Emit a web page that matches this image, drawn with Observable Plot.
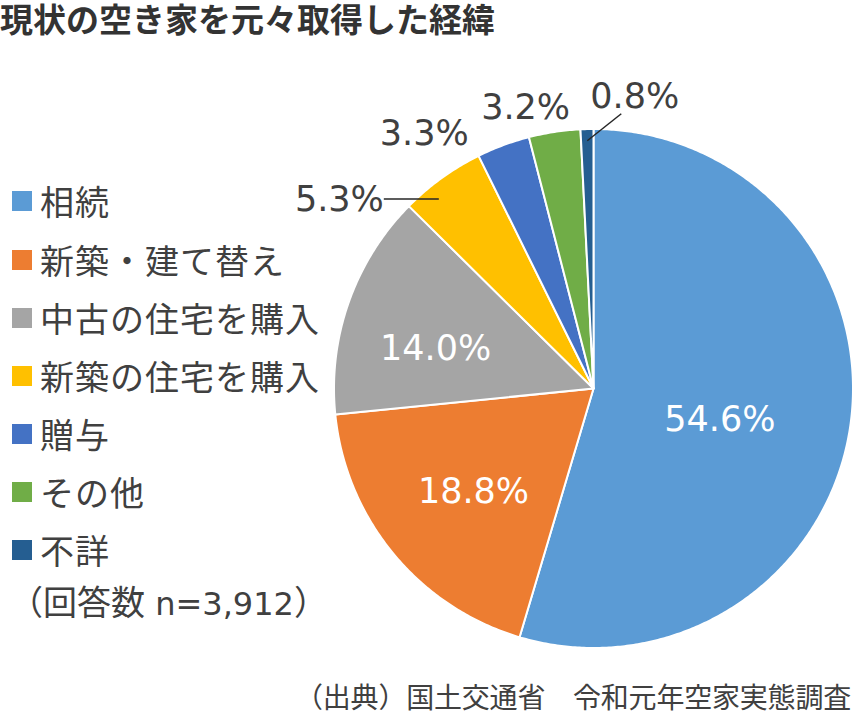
<!DOCTYPE html>
<html><head><meta charset="utf-8">
<script src="https://cdn.jsdelivr.net/npm/d3@7"></script>
<script src="https://cdn.jsdelivr.net/npm/@observablehq/plot@0.6"></script>
<style>
body{margin:0;background:#fff;}
#wrap{position:relative;width:855px;height:723px;overflow:hidden;font-family:"Noto Sans CJK JP","Noto Sans",sans-serif;color:#404040;}
#chart{position:absolute;left:0;top:0;}
#title{position:absolute;left:0;top:2px;height:32px;line-height:32px;font-size:33px;font-weight:bold;color:#333;white-space:nowrap;}
.item{position:absolute;left:12px;height:40px;line-height:40px;font-size:34px;letter-spacing:1px;white-space:nowrap;display:flex;align-items:center;}
.sw{width:20px;height:20px;margin-right:8px;flex:none;}
#note{position:absolute;left:9px;height:40px;line-height:40px;font-size:34px;white-space:pre;}
#note .lat{font-family:"DejaVu Sans",sans-serif;font-size:32px;}
#caption{position:absolute;right:4px;top:678px;height:36px;line-height:36px;font-size:28px;letter-spacing:-0.2px;white-space:nowrap;}
</style></head><body>
<div id="wrap">
<div id="chart"></div>
<div id="title">現状の空き家を元々取得した経緯</div>
<div id="legend"></div>
<div id="note"></div>
<div id="caption">（出典）国土交通省　令和元年空家実態調査</div>
</div>
<script>
// ---- data ----
const categories = ["相続","新築・建て替え","中古の住宅を購入","新築の住宅を購入","贈与","その他","不詳"];
const values = [54.6, 18.8, 14.0, 5.3, 3.3, 3.2, 0.8];
const colors = ["#5B9BD5","#ED7D31","#A5A5A5","#FFC000","#4472C4","#70AD47","#255E91"];
const labels = ["54.6%","18.8%","14.0%","5.3%","3.3%","3.2%","0.8%"];
const notePrefix = "（回答数";
const noteN = " n=3,912";
const noteSuffix = "）";

// ---- layout (pixels) ----
const W = 855, H = 723, CX = 593, CY = 388, R = 259.5;
const labelLayout = [
  {r:0.5,  dx:-2,  dy:13,  fill:"white",   anchor:"middle"},
  {r:0.6,  dx:0,   dy:4,   fill:"white",   anchor:"middle"},
  {r:0.6,  dx:-11, dy:12,  fill:"white",   anchor:"middle"},
  {r:0.9,  dx:-73, dy:1,   fill:"#404040", anchor:"end",    leader:{r:0.9, from:[-18,0], to:[-73,0]}},
  {r:1.1,  dx:-70, dy:13,  fill:"#404040", anchor:"middle"},
  {r:1.1,  dx:-25, dy:2,   fill:"#404040", anchor:"middle"},
  {r:0.955,dx:3,   dy:-44, fill:"#404040", anchor:"start",  leader:{r:0.955, from:[0,0], to:[34,-27]}}
];

const arcs = d3.pie().sort(null).value(d => d)(values);
const polar = (a, r) => [Math.sin(a) * r, Math.cos(a) * r];
const px2u = ([dx, dy]) => [dx / R, -dy / R];

// wedge outlines
const wedges = [];
arcs.forEach((a, i) => {
  wedges.push({cat: categories[i], x: 0, y: 0});
  const n = Math.max(2, Math.ceil((a.endAngle - a.startAngle) / (Math.PI / 360)));
  for (let k = 0; k <= n; k++) {
    const t = a.startAngle + (a.endAngle - a.startAngle) * k / n;
    const [x, y] = polar(t, 1);
    wedges.push({cat: categories[i], x, y});
  }
});

const textRows = arcs.map((a, i) => {
  const L = labelLayout[i];
  const mid = (a.startAngle + a.endAngle) / 2;
  const [x0, y0] = polar(mid, L.r);
  const [ox, oy] = px2u([L.dx, L.dy]);
  return {label: labels[i], x: x0 + ox, y: y0 + oy, fill: L.fill, anchor: L.anchor};
});
const leaders = [];
arcs.forEach((a, i) => {
  const L = labelLayout[i].leader;
  if (!L) return;
  const mid = (a.startAngle + a.endAngle) / 2;
  const [x0, y0] = polar(mid, L.r);
  const f = px2u(L.from), t = px2u(L.to);
  leaders.push({x1: x0 + f[0], y1: y0 + f[1], x2: x0 + t[0], y2: y0 + t[1]});
});

const textMark = (anchor) => Plot.text(textRows.filter(d => d.anchor === anchor), {
  x: "x", y: "y", text: "label", fill: d => d.fill, textAnchor: anchor,
  fontSize: 35, fontFamily: "DejaVu Sans, Verdana, sans-serif"
});

const chart = Plot.plot({
  width: W, height: H,
  marginLeft: CX - R, marginRight: W - CX - R,
  marginTop: CY - R, marginBottom: H - CY - R,
  x: {domain: [-1, 1], axis: null},
  y: {domain: [-1, 1], axis: null},
  color: {domain: categories, range: colors},
  style: {background: "transparent", overflow: "visible"},
  marks: [
    Plot.line(wedges, {x: "x", y: "y", z: "cat", fill: "cat", stroke: "white", strokeWidth: 2,
      strokeLinejoin: "round", curve: "linear-closed"}),
    Plot.link(leaders, {x1: "x1", y1: "y1", x2: "x2", y2: "y2", stroke: "#262626", strokeWidth: 1.5}),
    textMark("middle"), textMark("end"), textMark("start")
  ]
});
document.getElementById("chart").appendChild(chart);

// legend
const legendCenters = [203, 262, 320, 377.5, 436, 494, 552];
const leg = document.getElementById("legend");
categories.forEach((c, i) => {
  const d = document.createElement("div");
  d.className = "item";
  d.style.top = (legendCenters[i] - 22) + "px";
  d.innerHTML = `<span class="sw" style="background:${colors[i]}"></span><span>${c}</span>`;
  leg.appendChild(d);
});
const note = document.getElementById("note");
note.innerHTML = `${notePrefix}<span class="lat">${noteN}</span>${noteSuffix}`;
note.style.top = (603 - 22) + "px";
</script>
</body></html>
